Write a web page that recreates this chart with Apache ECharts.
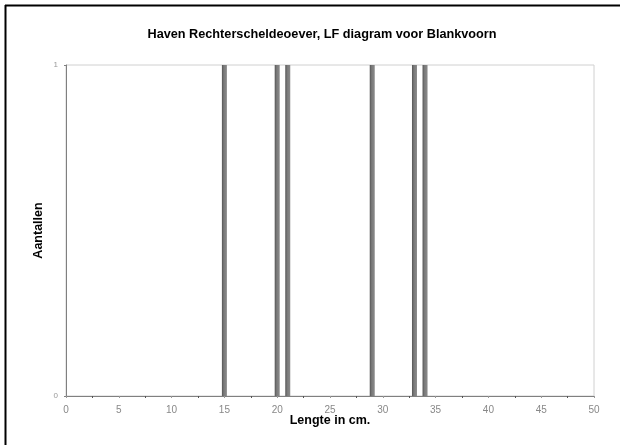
<!DOCTYPE html>
<html>
<head>
<meta charset="utf-8">
<script src="https://cdn.jsdelivr.net/npm/echarts@6/dist/echarts.min.js"></script>
<style>
html, body { margin: 0; padding: 0; background: #fff; }
#container { width: 620px; height: 445px; }
</style>
</head>
<body>
<div id="container"></div>
<script>
// lengtes (cm) met gevangen vissen
var lengtes = [15, 20, 21, 29, 33, 34];
// aantallen per lengte
var aantallen = [1, 1, 1, 1, 1, 1];

var barData = [];
for (var i = 0; i < lengtes.length; i++) {
    barData.push([lengtes[i], aantallen[i]]);
}

var dom = document.getElementById("container");
var myChart = echarts.init(dom);
var option = {
    animation: false,
    backgroundColor: '#fff',
    title: {
        text: 'Haven Rechterscheldeoever, LF diagram voor Blankvoorn',
        left: 317,
        textAlign: 'center',
        top: 23,
        textStyle: { fontFamily: 'Liberation Sans', fontSize: 12.7, fontWeight: 'bold', color: '#000' }
    },
    graphic: [
        // buitenrand (links en boven)
        { type: 'line', shape: { x1: 5.5, y1: 5, x2: 5.5, y2: 445 }, style: { stroke: '#000', lineWidth: 2 } },
        { type: 'line', shape: { x1: 5, y1: 5.5, x2: 620, y2: 5.5 }, style: { stroke: '#000', lineWidth: 2 } }
    ],
    grid: {
        left: 66, right: 26, top: 65, bottom: 49,
        show: true, borderColor: '#d0d0d0', borderWidth: 1
    },
    xAxis: {
        type: 'value',
        min: 0, max: 50, interval: 5,
        name: 'Lengte in cm.',
        nameLocation: 'middle',
        nameGap: 18,
        nameMoveOverlap: false,
        nameTextStyle: { fontFamily: 'Liberation Sans', fontSize: 12.5, fontWeight: 'bold', color: '#000' },
        axisLine: { lineStyle: { color: '#808080', width: 1 } },
        axisTick: { show: true, length: 2, lineStyle: { color: '#999' } },
        minorTick: { show: true, splitNumber: 2, length: 2, lineStyle: { color: '#555' } },
        axisLabel: { fontFamily: 'Liberation Sans', fontSize: 10, color: '#888', margin: 9 },
        splitLine: { show: false }
    },
    yAxis: {
        type: 'value',
        min: 0, max: 1, interval: 1,
        name: 'Aantallen',
        nameLocation: 'middle',
        nameGap: 21,
        nameMoveOverlap: false,
        nameTextStyle: { fontFamily: 'Liberation Sans', fontSize: 12.5, fontWeight: 'bold', color: '#000' },
        axisLine: { show: true, lineStyle: { color: '#808080', width: 1 } },
        axisTick: { show: true, length: 2, lineStyle: { color: '#808080' } },
        axisLabel: { fontFamily: 'Liberation Sans', fontSize: 8, color: '#999', margin: 8 },
        splitLine: { show: false }
    },
    series: [
        {
            type: 'bar',
            data: barData,
            barWidth: 5,
            itemStyle: {
                color: new echarts.graphic.LinearGradient(0, 0, 1, 0, [
                    { offset: 0, color: '#555' },
                    { offset: 0.4, color: '#7a7a7a' },
                    { offset: 1, color: '#8a8a8a' }
                ])
            }
        }
    ]
};
myChart.setOption(option, true);
</script>
</body>
</html>
